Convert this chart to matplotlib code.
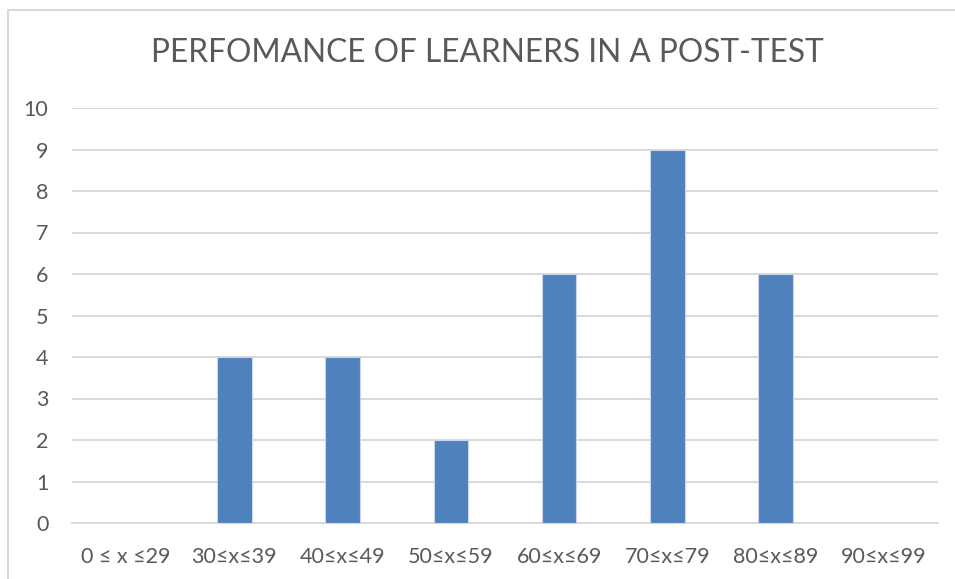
import matplotlib.pyplot as plt
from matplotlib.patches import Rectangle

# categorias e valores
categorias = ["0 \u2264 x \u226429", "30\u2264x\u226439", "40\u2264x\u226449", "50\u2264x\u226459",
              "60\u2264x\u226469", "70\u2264x\u226479", "80\u2264x\u226489", "90\u2264x\u226499"]
valores = [0, 4, 4, 2, 6, 9, 6, 0]
y_ticks = list(range(0, 11))

fonte = ['Lato', 'DejaVu Sans']
plt.rcParams['font.family'] = fonte

fig = plt.figure(figsize=(9.55, 5.79), dpi=100)
ax = fig.add_axes([72/955, 56/579, 866/955, 415/579])

x = range(len(categorias))
ax.bar(x, valores, width=0.32, color="#4F81BD", edgecolor="#C9D6EA", linewidth=0.8, zorder=3)

ax.set_xlim(-0.5, len(categorias) - 0.5)
ax.set_ylim(0, 10)
ax.set_yticks(y_ticks)
ax.set_xticks(list(x))
ax.set_xticklabels(categorias)

ax.grid(axis="y", color="#D9D9D9", linewidth=1.4, zorder=0)
for lado in ["top", "right", "left"]:
    ax.spines[lado].set_visible(False)
ax.spines["bottom"].set_color("#D9D9D9")
ax.spines["bottom"].set_linewidth(1.4)
ax.tick_params(axis="both", length=0, labelsize=15.5, labelcolor="#595959")
ax.tick_params(axis="y", pad=17)
ax.tick_params(axis="x", pad=17)

fig.text(487/955, 1 - 53/579, "PERFOMANCE OF LEARNERS IN A POST-TEST",
         ha="center", va="center", fontsize=22.8, color="#595959")

# borda do grafico
fig.patches.append(Rectangle((8/955, -0.1), 1.2, 1 - 10/579 + 0.1, transform=fig.transFigure,
                             fill=False, edgecolor="#D9D9D9", linewidth=1.5))

fig.savefig("out.png", dpi=100)
